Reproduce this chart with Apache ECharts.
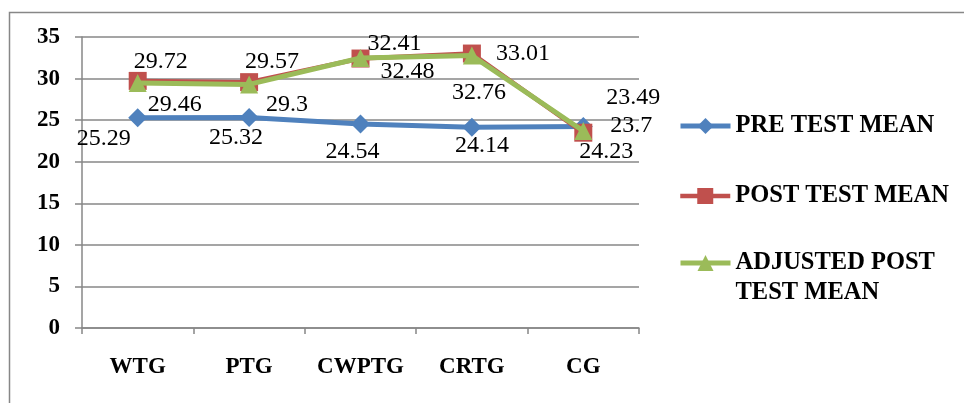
<!DOCTYPE html>
<html>
<head>
<meta charset="utf-8">
<title>Test means by group</title>
<script src="https://cdn.jsdelivr.net/npm/echarts@6/dist/echarts.min.js"></script>
<style>
  html, body { margin: 0; padding: 0; background: #fff; }
  #chart { width: 964px; height: 403px; }
</style>
</head>
<body>
<div id="chart"></div>
<script>
// Group names along the horizontal axis
const categories = ['WTG', 'PTG', 'CWPTG', 'CRTG', 'CG'];

// Mean scores per group
const preTestMean = [25.29, 25.32, 24.54, 24.14, 24.23];
const postTestMean = [29.72, 29.57, 32.41, 33.01, 23.49];
const adjustedPostTestMean = [29.46, 29.3, 32.48, 32.76, 23.7];

// Value axis range
const yMin = 0;
const yMax = 35;
const yStep = 5;

// Where each value label sits relative to its marker (px)
const preLabelShift = [[-34, 21], [-13, 20], [-8, 28], [10, 18], [23, 25]];
const postLabelShift = [[23, -19], [23, -20], [34, -15], [51, 0], [50, -35]];
const adjLabelShift = [[37, 22], [38, 20], [47, 14], [7, 37], [48, -5]];

const SERIF = '"Liberation Serif", "Times New Roman", serif';
const GRID_GRAY = '#878787';
const BLUE = '#4F81BD';
const RED = '#C0504D';
const GREEN = '#9BBB59';

function withLabels(values, shifts) {
  return values.map((v, i) => ({
    value: v,
    label: { offset: shifts[i] }
  }));
}

const valueLabel = {
  show: true,
  position: 'inside',
  align: 'center',
  verticalAlign: 'middle',
  fontFamily: SERIF,
  fontSize: 24,
  color: '#000'
};

// One legend block per series so each can be placed on its own row;
// the long name wraps onto two lines with the key beside the first line.
function legendFor(name, top, lineWidth) {
  return {
    data: [name],
    left: 678,
    top: top,
    orient: 'vertical',
    padding: 0,
    itemWidth: 50,
    itemHeight: 20,
    itemGap: 5,
    lineStyle: { width: lineWidth },
    formatter: n => n === 'ADJUSTED POST TEST MEAN' ? '\nADJUSTED POST\nTEST MEAN' : n,
    textStyle: {
      fontFamily: SERIF,
      fontWeight: 'bold',
      fontSize: 24.5,
      lineHeight: 30,
      color: '#000'
    }
  };
}

const chart = echarts.init(document.getElementById('chart'), null, { renderer: 'canvas' });

chart.setOption({
  animation: false,
  backgroundColor: '#fff',
  graphic: [{
    type: 'rect',
    left: 7,
    top: 10,
    shape: { width: 1000, height: 500 },
    style: { fill: 'none', stroke: GRID_GRAY, lineWidth: 1.5 },
    silent: true
  }],
  legend: [
    legendFor('PRE TEST MEAN', 111, 5),
    legendFor('POST TEST MEAN', 181, 4.5),
    legendFor('ADJUSTED POST TEST MEAN', 218, 5)
  ],
  grid: { left: 82, right: 325, top: 37, bottom: 75 },
  xAxis: {
    type: 'category',
    data: categories,
    boundaryGap: true,
    axisLine: { lineStyle: { color: GRID_GRAY, width: 1.5 } },
    axisTick: { show: true, length: 6, alignWithLabel: false, lineStyle: { color: GRID_GRAY, width: 1.5 } },
    axisLabel: {
      interval: 0,
      margin: 28,
      fontFamily: SERIF,
      fontWeight: 'bold',
      fontSize: 23,
      color: '#000'
    }
  },
  yAxis: {
    type: 'value',
    min: yMin,
    max: yMax,
    interval: yStep,
    axisLine: { show: true, lineStyle: { color: GRID_GRAY, width: 1.5 } },
    axisTick: { show: true, length: 7, lineStyle: { color: GRID_GRAY, width: 1.5 } },
    splitLine: { show: true, lineStyle: { color: GRID_GRAY, width: 1.5 } },
    axisLabel: {
      margin: 22,
      fontFamily: SERIF,
      fontWeight: 'bold',
      fontSize: 23,
      color: '#000'
    }
  },
  series: [
    {
      name: 'PRE TEST MEAN',
      type: 'line',
      data: withLabels(preTestMean, preLabelShift),
      symbol: 'diamond',
      symbolSize: 19,
      showAllSymbol: true,
      lineStyle: { color: BLUE, width: 5 },
      itemStyle: { color: BLUE },
      label: valueLabel,
      z: 2
    },
    {
      name: 'POST TEST MEAN',
      type: 'line',
      data: withLabels(postTestMean, postLabelShift),
      symbol: 'rect',
      symbolSize: 18,
      showAllSymbol: true,
      lineStyle: { color: RED, width: 4.5 },
      itemStyle: { color: RED },
      label: valueLabel,
      z: 3
    },
    {
      name: 'ADJUSTED POST TEST MEAN',
      type: 'line',
      data: withLabels(adjustedPostTestMean, adjLabelShift),
      symbol: 'triangle',
      symbolSize: 18,
      showAllSymbol: true,
      lineStyle: { color: GREEN, width: 5 },
      itemStyle: { color: GREEN },
      label: valueLabel,
      z: 4
    }
  ]
});
</script>
</body>
</html>
